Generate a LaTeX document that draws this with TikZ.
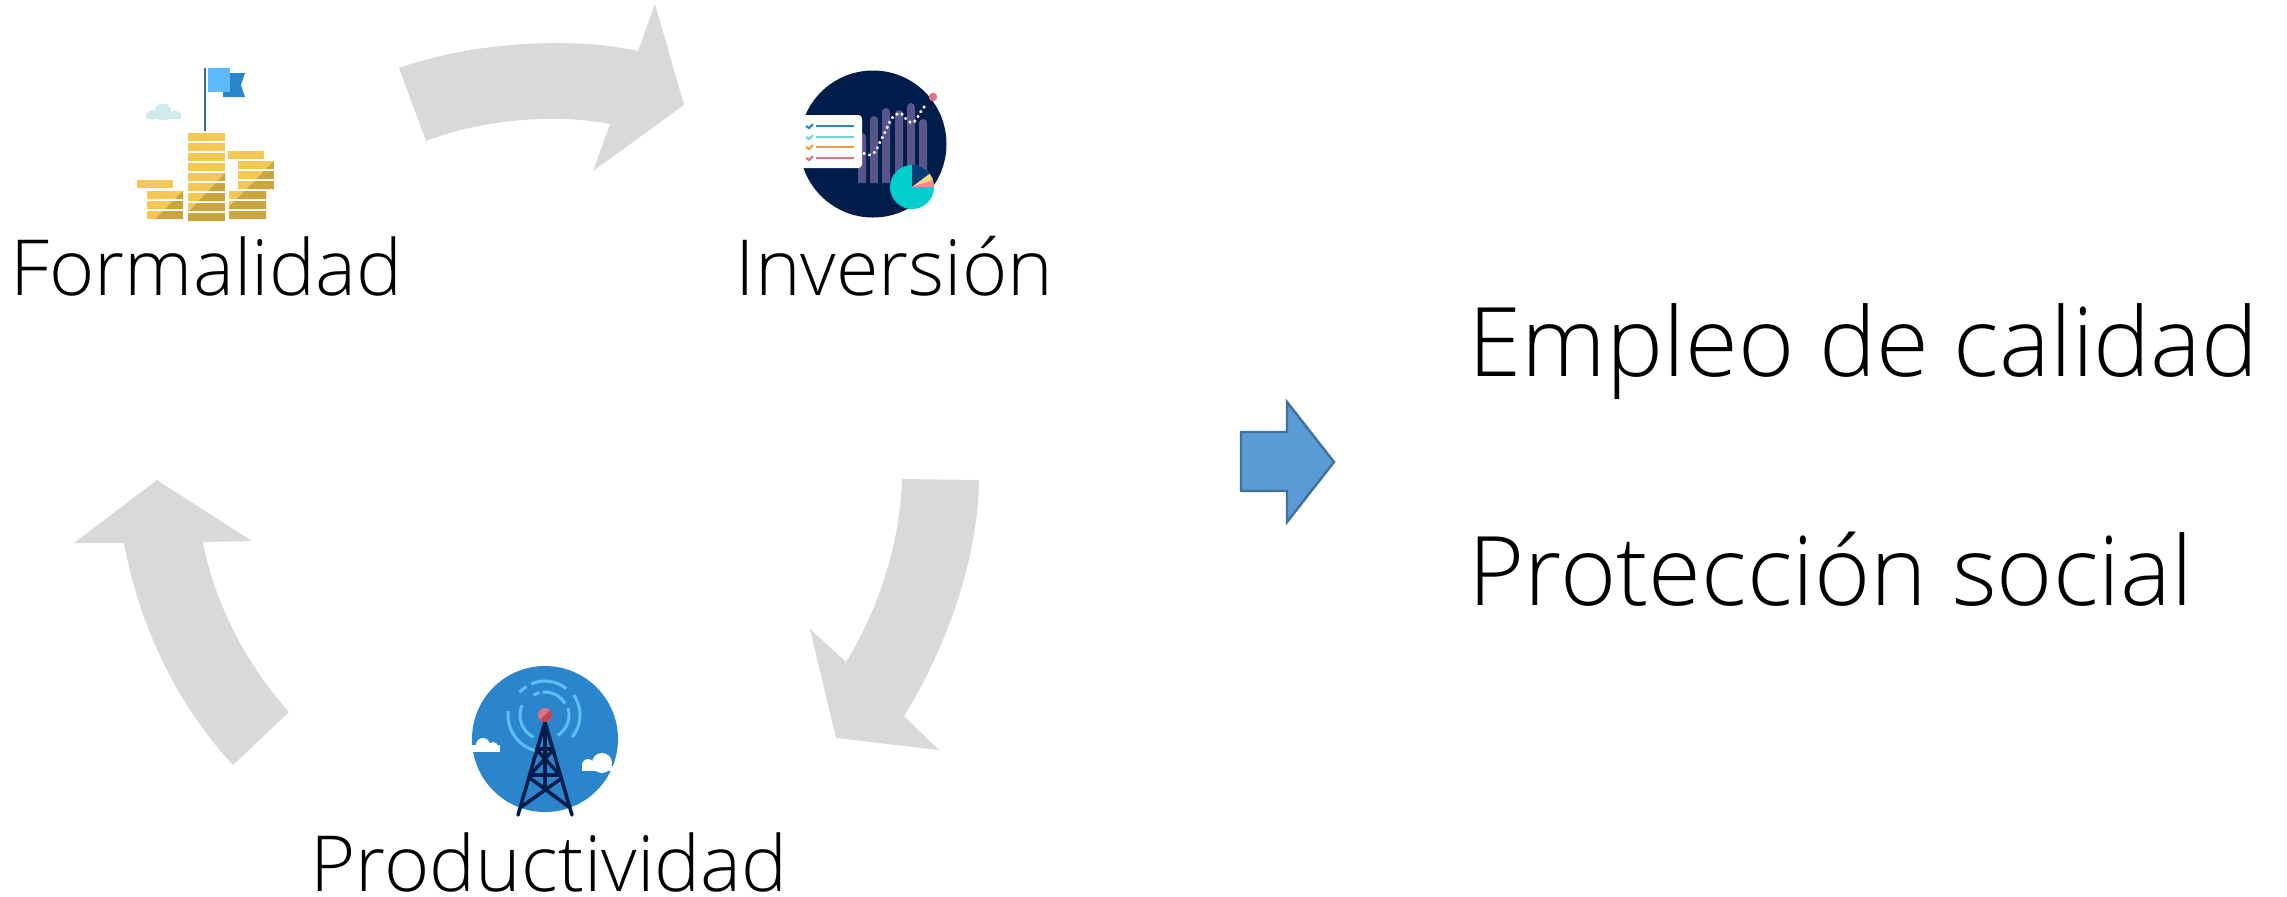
\documentclass[tikz,border=0pt]{standalone}
\usepackage{fontspec}
\setmainfont{Open Sans Light}
\usepackage{xcolor}
\usetikzlibrary{positioning}
\definecolor{cyclegray}{RGB}{217, 217, 217}
\definecolor{arrowblue}{RGB}{91, 155, 213}
\definecolor{arrowedge}{RGB}{65, 113, 156}
\definecolor{coingold}{RGB}{245, 200, 85}
\definecolor{coinshade}{RGB}{202, 166, 65}
\definecolor{flaglight}{RGB}{90, 185, 255}
\definecolor{flagpole}{RGB}{50, 110, 170}
\definecolor{cloudteal}{RGB}{205, 235, 238}
\definecolor{midblue}{RGB}{43, 133, 205}
\definecolor{navyblue}{RGB}{0, 28, 75}
\definecolor{barpurple}{RGB}{88, 84, 140}
\definecolor{piecyan}{RGB}{0, 205, 205}
\definecolor{pienavy}{RGB}{0, 60, 120}
\definecolor{pieyellow}{RGB}{248, 215, 130}
\definecolor{piepink}{RGB}{250, 135, 150}
\definecolor{pinkred}{RGB}{225, 115, 130}
\definecolor{darkred}{RGB}{190, 70, 85}
\definecolor{checkteal}{RGB}{110, 215, 205}
\definecolor{checkorange}{RGB}{245, 150, 70}
\definecolor{ringblue}{RGB}{95, 190, 245}
\begin{document}
\begin{tikzpicture}[x=0.01cm, y=-0.01cm,
    smalltext/.style={font=\fontsize{22}{24}\selectfont, anchor=base west, inner sep=0pt},
    bigtext/.style={font=\fontsize{27.3}{32}\selectfont, anchor=base west, inner sep=0pt},
    cycleshape/.style={fill=cyclegray, draw=none},
    ring/.style={ringblue, line width=0.85pt}]
    \useasboundingbox (0,0) rectangle (2287,896);

    % Cycle arrows
    \draw[cycleshape] (399,68) .. controls (460,46) and (560,34) .. (638,51) -- (655,4) -- (684,105) -- (593,171) -- (610,124) .. controls (560,114) and (485,118) .. (426,141) -- cycle;
    \draw[cycleshape] (902,479) -- (979,480) .. controls (978,565) and (942,655) .. (904,716) -- (939,750) -- (836,738) -- (810,629) -- (846,662) .. controls (878,610) and (900,545) .. (902,479) -- cycle;
    \draw[cycleshape] (233,765) .. controls (180,708) and (140,630) .. (124,543) -- (74,543) -- (157,480) -- (252,541) -- (203,542) .. controls (215,605) and (247,665) .. (289,712) -- cycle;

    % Blue arrow
    \draw[fill=arrowblue, draw=arrowedge, line width=0.7pt] (1241,432) -- (1287,432) -- (1287,402) -- (1334,462) -- (1287,522) -- (1287,491) -- (1241,491) -- cycle;

    % Icon 1: coins
    \fill[cloudteal] (146,113) rectangle (181,119);
    \foreach \x/\y/\r in {152/115/5, 163/112/8.5, 175/115/4.5} {
        \fill[cloudteal] (\x,\y) circle (\r);
    }
    \draw[flagpole, line width=0.6pt] (205,68) -- (205,131);
    \fill[midblue] (223,73) -- (245,73) -- (241,85) -- (245,97) -- (223,97) -- cycle;
    \fill[flaglight] (208,68) rectangle (230,92);
    % tall stack
    \begin{scope}
        \clip foreach \y in {133,143,153,163,173,183,193,203,213} {(188,\y) rectangle (225,\y+8)};
        \fill[coingold] (188,133) rectangle (225,221);
        \fill[coinshade] (180,221) -- (225,173) -- (225,221) -- cycle;
    \end{scope}
    % right stack
    \fill[coingold] (228,151) rectangle (264,159);
    \begin{scope}
        \clip foreach \y in {161,171,181} {(238,\y) rectangle (274,\y+8)}
              foreach \y in {191,201,211} {(229,\y) rectangle (266,\y+8)};
        \fill[coingold] (229,161) rectangle (274,219);
        \fill[coinshade] (274,161) -- (225,211) -- (225,219) -- (274,219) -- cycle;
    \end{scope}
    % left stack
    \fill[coingold] (137,180) rectangle (173,188);
    \begin{scope}
        \clip foreach \y in {191,201,211} {(147,\y) rectangle (183,\y+8)};
        \fill[coingold] (147,191) rectangle (183,219);
        \fill[coinshade] (183,191) -- (155,219) -- (183,219) -- cycle;
    \end{scope}

    % Icon 2: chart
    \fill[navyblue] (873,144) circle (73.5);
    \foreach \x/\y in {862/133, 874/116, 886/108, 899/110, 911/103, 923/119} {
        \fill[barpurple] (\x-4,183) -- (\x-4,\y+4) arc[start angle=180, end angle=360, radius=4] -- (\x+4,183) -- cycle;
    }
    \draw[white, line width=0.7pt, dash pattern=on 0.7pt off 0.9pt] plot[smooth] coordinates {(863,153) (869,155) (875,152) (880,142) (887,128) (892,118) (900,113) (905,118) (912,123) (917,118) (923,108) (927,105)};
    \fill[pinkred] (933,97) circle (4.3);
    \fill[white, rounded corners=1pt] (795,115) rectangle (862,168);
    \foreach \y/\c in {126/midblue, 137/checkteal, 147/checkorange, 158/pinkred} {
        \draw[\c, line width=0.8pt] (816,\y) -- (854,\y);
        \draw[\c, line width=0.6pt] (806,\y) -- (809,\y+2) -- (813,\y-2);
    }
    \fill[piecyan] (912,187) circle (22);
    \fill[pienavy] (912,187) -- (912,165) arc[start angle=-90, end angle=-37, radius=22] -- cycle;
    \fill[pieyellow] (912,187) -- (929.6,173.8) arc[start angle=-37, end angle=-18, radius=22] -- cycle;
    \fill[piepink] (912,187) -- (932.9,180.2) arc[start angle=-18, end angle=0, radius=22] -- cycle;

    % Icon 3: tower
    \fill[midblue] (545,739) circle (73);
    \draw[ring] (545,715) ++(203:25) arc[start angle=203, end angle=117, radius=25];
    \draw[ring] (545,715) ++(-17:24) arc[start angle=-17, end angle=58, radius=24];
    \draw[ring] (545,715) ++(-120:23) arc[start angle=-120, end angle=-104, radius=23];
    \draw[ring] (545,715) ++(-96:23) arc[start angle=-96, end angle=-30, radius=23];
    \draw[ring] (545,715) ++(186:37) arc[start angle=186, end angle=100, radius=37];
    \draw[ring] (545,715) ++(-35:35) arc[start angle=-35, end angle=39, radius=35];
    \draw[ring] (545,715) ++(-138:34) arc[start angle=-138, end angle=-123, radius=34];
    \draw[ring] (545,715) ++(-114:34) arc[start angle=-114, end angle=-51, radius=34];
    \fill[white] (472,745) rectangle (500,752);
    \fill[white] (582,766) rectangle (620,771);
    \foreach \x/\y/\r in {483/745/7, 493/747/5, 602/763/10, 588/765/6} {
        \fill[white] (\x,\y) circle (\r);
    }
    \begin{scope}[navyblue, line width=1pt]
        \draw[line cap=round] (518,815) -- (545,722) -- (572,815);
        \draw (545,722) -- (545,788);
        \draw (536,749) -- (554,749) (530,775) -- (560,775);
        \draw (536,749) -- (560,775) (554,749) -- (530,775);
        \draw (530,778) -- (569,807) (562,778) -- (521,807);
    \end{scope}
    \fill[pinkred] (545,715) circle (7);
    \fill[darkred] (540,720) arc[start angle=135, end angle=-45, radius=7] -- cycle;

    % Labels
    \node[smalltext] (formalidad) at (10,295) {Formalidad};
    \node[smalltext] (inversion) at (735,295) {Inversión};
    \node[smalltext] (productividad) at (310,891) {Productividad};
    \node[bigtext] (empleo) at (1468,376) {Empleo de calidad};
    \node[bigtext] (proteccion) at (1468,605) {Protección social};
\end{tikzpicture}
\end{document}
